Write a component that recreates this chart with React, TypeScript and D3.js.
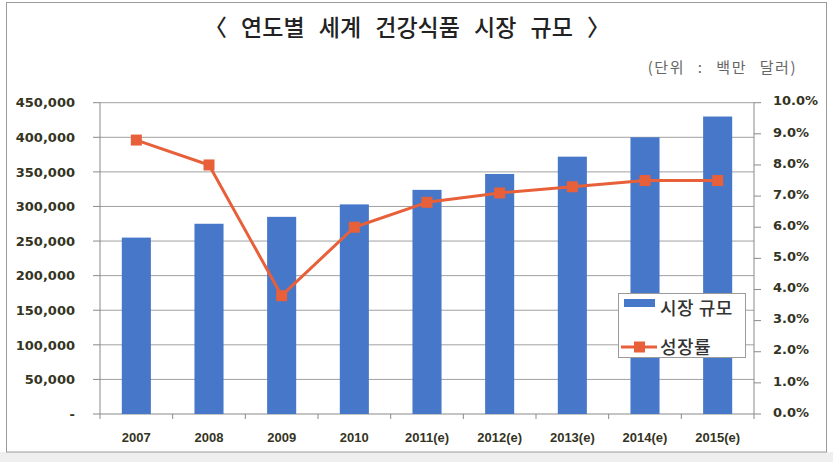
import React from "react";
import * as d3 from "d3";

const categories = ["2007", "2008", "2009", "2010", "2011(e)", "2012(e)", "2013(e)", "2014(e)", "2015(e)"];
const marketSize = [255000, 275000, 285000, 303000, 324000, 347000, 372000, 400000, 430000];
const growthRate = [8.8, 8.0, 3.8, 6.0, 6.8, 7.1, 7.3, 7.5, 7.5];
const leftTicks = [0, 50000, 100000, 150000, 200000, 250000, 300000, 350000, 400000, 450000];
const rightTicks = [0, 1, 2, 3, 4, 5, 6, 7, 8, 9, 10];

const W = 833;
const H = 462;
const plot = { left: 100, right: 754, top: 102.7, bottom: 414 };

const BAR = "#4677c8";
const LINE = "#e8603a";
const GRID = "#a0a0a0";
const AXIS = "#8a8a8a";
const LABEL = "#34341f";

export default function App() {
  const x = d3
    .scaleBand<string>()
    .domain(categories)
    .range([plot.left, plot.right])
    .paddingInner(0.6)
    .paddingOuter(0.3);
  const yL = d3.scaleLinear().domain([0, 450000]).range([plot.bottom, plot.top]);
  const yR = d3.scaleLinear().domain([0, 10]).range([plot.bottom, plot.top]);
  const step = x.step();
  const bw = x.bandwidth();
  const cx = (c: string) => (x(c) as number) + bw / 2;

  const line = d3
    .line<number>()
    .x((_, i) => cx(categories[i]))
    .y((d) => yR(d));

  const fmtL = (d: number) => (d === 0 ? "-" : d3.format(",")(d));
  const fmtR = (d: number) => `${d.toFixed(1)}%`;

  const axisFont = "'DejaVu Sans', Verdana, sans-serif";
  const kFont = "'Noto Sans CJK KR', sans-serif";

  return (
    <div style={{ position: "absolute", left: 0, top: 0 }}>
      <svg width={W} height={H} style={{ display: "block" }}>
        <rect x={0} y={0} width={W} height={H} fill="#ffffff" />
        <rect x={0} y={452} width={W} height={H - 452} fill="#efefef" />
        <rect x={6.5} y={2.5} width={820} height={449.5} fill="#ffffff" stroke="#9a9a9a" strokeWidth={1} />

        {/* title */}
        <text x={407} y={36} textAnchor="middle" fontFamily={kFont} fontSize={23} fontWeight={500} fill="#222" style={{ wordSpacing: "9px" }}>
          〈 연도별 세계 건강식품 시장 규모 〉
        </text>
        <text x={797} y={73} textAnchor="end" fontFamily={kFont} fontSize={15} fill="#666" style={{ wordSpacing: "8px", letterSpacing: "1.5px" }}>
          (단위 : 백만 달러)
        </text>

        {/* gridlines */}
        {leftTicks.map((t) => (
          <line key={"g" + t} x1={plot.left} x2={plot.right} y1={yL(t)} y2={yL(t)} stroke={t === 0 ? AXIS : GRID} strokeWidth={1} />
        ))}

        {/* bars */}
        {marketSize.map((v, i) => (
          <rect key={"b" + i} x={x(categories[i])} y={yL(v)} width={bw} height={plot.bottom - yL(v)} fill={BAR} />
        ))}

        {/* axes lines */}
        <line x1={plot.left} x2={plot.left} y1={plot.top} y2={plot.bottom} stroke={AXIS} />
        <line x1={plot.right} x2={plot.right} y1={plot.top} y2={plot.bottom} stroke={AXIS} />

        {/* left ticks & labels */}
        {leftTicks.map((t) => (
          <g key={"l" + t}>
            <line x1={plot.left - 7} x2={plot.left} y1={yL(t)} y2={yL(t)} stroke={AXIS} />
            <text x={75} y={yL(t)} dy="0.36em" textAnchor="end" fontFamily={axisFont} fontWeight="bold" fontSize={13} fill={LABEL}>
              {fmtL(t)}
            </text>
          </g>
        ))}

        {/* right ticks & labels */}
        {rightTicks.map((t) => (
          <g key={"r" + t}>
            <line x1={plot.right} x2={plot.right + 7} y1={yR(t)} y2={yR(t)} stroke={AXIS} />
            <text x={773} y={yR(t) - 2} dy="0.36em" textAnchor="start" fontFamily={axisFont} fontWeight="bold" fontSize={13} fill={LABEL}>
              {fmtR(t)}
            </text>
          </g>
        ))}

        {/* bottom ticks */}
        {d3.range(categories.length + 1).map((i) => (
          <line key={"bt" + i} x1={plot.left + i * step} x2={plot.left + i * step} y1={plot.bottom} y2={plot.bottom + 5} stroke={AXIS} />
        ))}
        {categories.map((c) => (
          <text key={"xl" + c} x={cx(c)} y={442} textAnchor="middle" fontFamily="'Liberation Sans', Arial, sans-serif" fontWeight="bold" fontSize={13} fill={LABEL}>
            {c}
          </text>
        ))}

        {/* growth line */}
        <path d={line(growthRate) || ""} fill="none" stroke={LINE} strokeWidth={3} strokeLinejoin="round" />
        {growthRate.map((v, i) => (
          <rect key={"m" + i} x={cx(categories[i]) - 5.5} y={yR(v) - 5.5} width={11} height={11} fill={LINE} />
        ))}

        {/* legend */}
        <rect x={618.5} y={293.5} width={127} height={64} fill="#ffffff" stroke="#9a9a9a" />
        <rect x={624} y={299} width={31} height={8} fill={BAR} />
        <text x={660} y={309} dy="0.36em" fontFamily={kFont} fontSize={18} fontWeight={500} fill="#333" style={{ letterSpacing: "0.5px" }}>
          시장 규모
        </text>
        <line x1={621} x2={657} y1={347} y2={347} stroke={LINE} strokeWidth={3} />
        <rect x={634} y={341.5} width={11} height={11} fill={LINE} />
        <text x={660} y={348} dy="0.36em" fontFamily={kFont} fontSize={18} fontWeight={500} fill="#333" style={{ letterSpacing: "0.5px" }}>
          성장률
        </text>
      </svg>
    </div>
  );
}
